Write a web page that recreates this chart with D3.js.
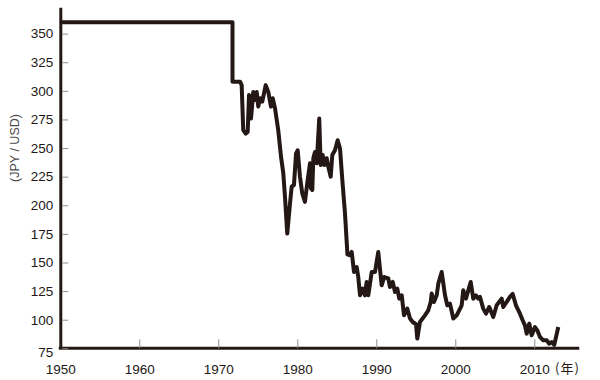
<!DOCTYPE html>
<html>
<head>
<meta charset="utf-8">
<script src="https://cdn.jsdelivr.net/npm/d3@7"></script>
<style>
  body { margin: 0; background: #fff; }
  svg { display: block; font-family: "Liberation Sans", Arial, sans-serif; }
</style>
</head>
<body>
<svg id="chart" width="600" height="380"></svg>
<script>
// yen per dollar
var years = [1950, 1971.8, 1971.8, 1972.75, 1972.96, 1973.16, 1973.47, 1973.72, 1973.89, 1974.14,
  1974.43, 1974.65, 1974.86, 1975.06, 1975.28, 1975.57, 1976.0, 1976.33, 1976.67, 1976.89,
  1977.18, 1977.59, 1977.94, 1978.23, 1978.44, 1978.73, 1979.08, 1979.29, 1979.58, 1979.84,
  1980.05, 1980.34, 1980.63, 1980.97, 1981.32, 1981.61, 1981.73, 1981.9, 1982.03, 1982.24,
  1982.46, 1982.78, 1982.96, 1983.22, 1983.42, 1983.72, 1983.92, 1984.23, 1984.43, 1984.77,
  1985.11, 1985.41, 1985.7, 1986.04, 1986.35, 1986.67, 1986.89, 1987.18, 1987.52, 1987.72,
  1987.94, 1988.28, 1988.57, 1988.78, 1988.99, 1989.42, 1989.84, 1990.25, 1990.68, 1991.01,
  1991.52, 1991.73, 1992.08, 1992.37, 1992.66, 1992.91, 1993.22, 1993.51, 1993.92, 1994.27,
  1994.61, 1995.03, 1995.19, 1995.53, 1996.16, 1996.58, 1996.89, 1997.01, 1997.3, 1997.65,
  1997.85, 1998.28, 1998.7, 1998.99, 1999.33, 1999.75, 2000.18, 2000.81, 2001.01, 2001.35,
  2001.95, 2002.28, 2002.62, 2002.91, 2003.13, 2003.54, 2003.89, 2004.3, 2004.81, 2005.24,
  2005.87, 2006.08, 2006.51, 2006.92, 2007.27, 2007.68, 2008.19, 2008.53, 2008.82, 2009.04,
  2009.37, 2009.67, 2010.09, 2010.38, 2010.72, 2011.14, 2011.57, 2011.9, 2012.2, 2012.53,
  2013.04];
var rates = [360, 360, 308, 308, 305, 265.6, 262.6, 264, 296.4, 275.8,
  299, 292, 299, 286.2, 293.5, 290.6, 305, 299, 286.2, 293.5,
  284.8, 265.6, 242.5, 227.9, 207.5, 175.3, 201.7, 216.3, 217.7, 245.2,
  248.1, 225, 210.4, 203, 222.2, 236.7, 214.8, 213.4, 241.1, 246.6,
  236.7, 275.8, 235.2, 243.9, 235.2, 241.1, 233.8, 225, 243.9, 248.1,
  256.8, 249.6, 222.2, 192.8, 157, 156.3, 159.2, 141.7, 146, 137.3,
  121.3, 127.2, 121.3, 133, 121.3, 141.7, 141.7, 159.2, 130, 137.3,
  136, 128.6, 133, 124.2, 127.2, 118.4, 121.3, 103.8, 109.7, 101,
  98, 96, 83.5, 98, 103.8, 108.2, 115.5, 122.8, 115.5, 121.3,
  131.5, 141.7, 121.3, 112.6, 114, 101, 103.8, 112.6, 125.7, 118.4,
  133, 118.4, 121.3, 118.4, 119.9, 109.7, 105.3, 111.1, 102.4, 112.6,
  118.4, 111.1, 115.5, 119.9, 122.5, 112.6, 105.3, 99.5, 95.1, 87.8,
  96.6, 86.4, 93.6, 90.7, 84.9, 82, 82, 79, 80.5, 78,
  93.6];

var xTicks = [1950, 1960, 1970, 1980, 1990, 2000, 2010];
var yTicks = [75, 100, 125, 150, 175, 200, 225, 250, 275, 300, 325, 350];

var ink = "#231815";
var svg = d3.select("#chart");

var x = d3.scaleLinear().domain([1950, 2015.7]).range([60.3, 579.3]);
var y = d3.scaleLinear().domain([75, 373]).range([348.3, 7.3]);

// x axis
var gx = svg.append("g")
  .attr("transform", "translate(0," + y(75) + ")")
  .call(d3.axisBottom(x).tickValues(xTicks).tickFormat(d3.format("d"))
    .tickSize(-9).tickSizeOuter(0).tickPadding(16));
gx.select(".domain").attr("stroke", ink).attr("stroke-width", 3)
  .attr("d", "M" + (x(1950) - 1.5) + ",0H" + x(2015.7));
gx.selectAll(".tick line").attr("stroke", "#8f8f8f").attr("stroke-width", 1);
gx.selectAll(".tick text").attr("fill", ink).attr("font-size", 13.5)
  .attr("font-family", "Liberation Sans, Arial, sans-serif");

// y axis
var gy = svg.append("g")
  .attr("transform", "translate(" + x(1950) + ",0)")
  .call(d3.axisLeft(y).tickValues(yTicks).tickSize(-8).tickSizeOuter(0).tickPadding(7));
gy.select(".domain").attr("stroke", ink).attr("stroke-width", 3);
gy.selectAll(".tick line").attr("stroke", "#8f8f8f").attr("stroke-width", 1)
  .attr("x1", 2);
gy.selectAll(".tick text").attr("fill", ink).attr("font-size", 13.5)
  .attr("font-family", "Liberation Sans, Arial, sans-serif");
gy.selectAll(".tick").filter(function(d) { return d === 75; })
  .select("text").attr("dy", "0.62em");

svg.append("text")
  .attr("x", 555).attr("y", 373)
  .attr("fill", ink).attr("font-size", 13)
  .attr("font-family", "Noto Sans CJK JP, sans-serif")
  .attr("letter-spacing", 1)
  .text("(年)");

svg.append("text")
  .attr("transform", "translate(19,148) rotate(-90)")
  .attr("text-anchor", "middle")
  .attr("fill", "#4a4a4a").attr("font-size", 12.5)
  .text("(JPY / USD)");

// rate line
var line = d3.line()
  .x(function(d, i) { return x(years[i]); })
  .y(function(d) { return y(d); });

svg.append("path")
  .datum(rates)
  .attr("fill", "none")
  .attr("stroke", ink)
  .attr("stroke-width", 4)
  .attr("stroke-linejoin", "round")
  .attr("d", line);
</script>
</body>
</html>
